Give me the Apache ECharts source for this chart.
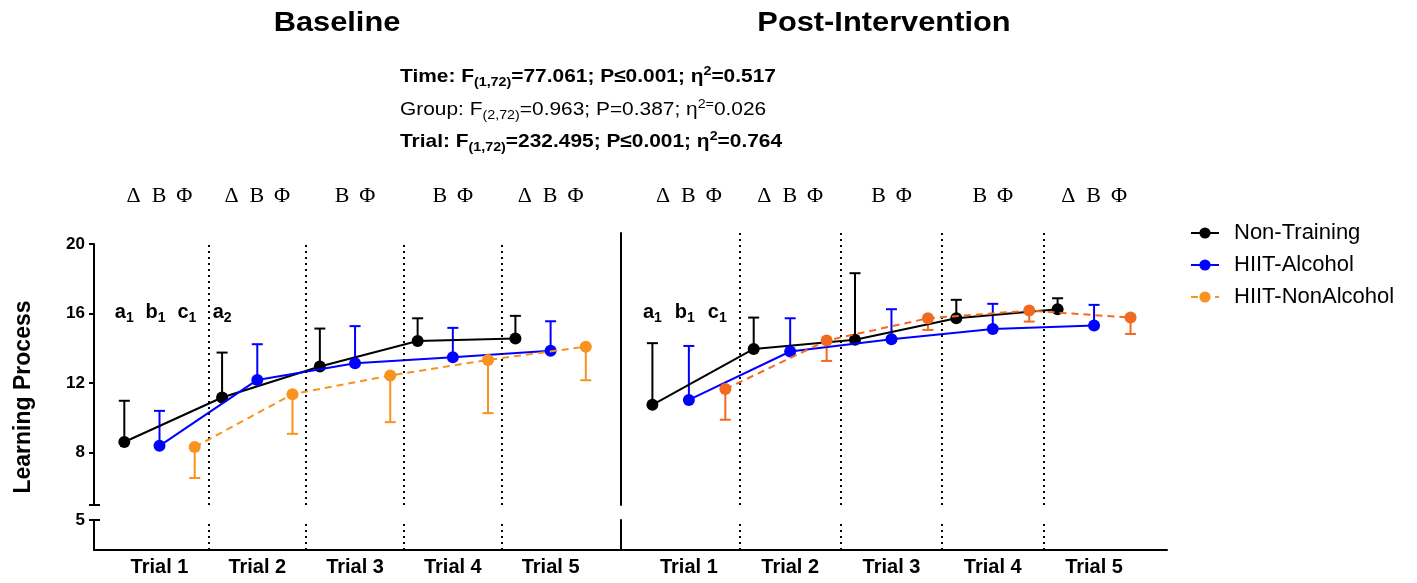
<!DOCTYPE html>
<html><head><meta charset="utf-8">
<script src="https://cdn.jsdelivr.net/npm/echarts@6/dist/echarts.min.js"></script>
<style>html,body{margin:0;padding:0;background:#fff}#c{width:1417px;height:583px}</style>
</head><body><div id="c"></div>
<script>
// ---------------- data ----------------
const trials = [1, 2, 3, 4, 5];
const trialLabels = ['Trial 1', 'Trial 2', 'Trial 3', 'Trial 4', 'Trial 5'];
const groups = ['Non-Training', 'HIIT-Alcohol', 'HIIT-NonAlcohol'];
const dividers = [1.5, 2.5, 3.5, 4.5];
const yTicks = [8, 12, 16, 20];
const yBreakTick = [5];

const baselineNonTraining = [8.62, 11.18, 12.96, 14.43, 14.57];
const baselineNonTrainingSD = [2.37, 2.58, 2.18, 1.30, 1.30];
const baselineHiitAlcohol = [8.40, 12.19, 13.15, 13.49, 13.86];
const baselineHiitAlcoholSD = [2.01, 2.05, 2.13, 1.69, 1.70];
const baselineHiitNonAlcohol = [8.33, 11.37, 12.44, 13.34, 14.10];
const baselineHiitNonAlcoholSD = [1.78, 2.28, 2.68, 3.06, 1.93];

const postNonTraining = [10.76, 13.97, 14.49, 15.73, 16.25];
const postNonTrainingSD = [3.54, 1.80, 3.83, 1.06, 0.63];
const postHiitAlcohol = [11.04, 13.82, 14.53, 15.12, 15.31];
const postHiitAlcoholSD = [3.10, 1.91, 1.72, 1.44, 1.19];
const postHiitNonAlcohol = [11.66, 14.45, 15.73, 16.17, 15.77];
const postHiitNonAlcoholSD = [1.76, 1.17, 0.67, 0.63, 0.94];

const trialMarks = ['Δ  Β \u2009Φ', 'Δ  Β \u2009Φ', 'Β \u2009Φ', 'Β \u2009Φ', 'Δ  Β \u2009Φ'];
const baselineLetters = ['a1', 'b1', 'c1', 'a2'];
const baselineLetterTrial = [1, 1, 1, 2];
const baselineLetterGroup = [0, 1, 2, 0];
const postLetters = ['a1', 'b1', 'c1'];
const postLetterTrial = [1, 1, 1];
const postLetterGroup = [0, 1, 2];

const panelTitles = ['Baseline', 'Post-Intervention'];

// ---------------- style ----------------
const FONT = '"Liberation Sans", Arial, sans-serif';
const SERIF = '"Liberation Serif", "Times New Roman", serif';
const groupOffset = [-0.36, 0, 0.36];
const letterOffset = [-0.36, -0.04, 0.28];
const errDir = [1, 1, -1];
const lineTypes = ['solid', 'solid', [7, 5]];
const colorsBase = ['#000000', '#0000FF', '#F7931E'];
const colorsPost = ['#000000', '#0000FF', '#F26A21'];
const X_MIN = 0.33, X_MAX = 5.72;
const MARK_Y = 22.75, LETTER_Y = 16.05;
const CAP = 11;
const STRETCH = 1.1;

const panels = [
  { values: [baselineNonTraining, baselineHiitAlcohol, baselineHiitNonAlcohol],
    sd: [baselineNonTrainingSD, baselineHiitAlcoholSD, baselineHiitNonAlcoholSD],
    colors: colorsBase, xTop: 0, yTop: 0, xBot: 2, yBot: 3,
    letters: baselineLetters, letterTrial: baselineLetterTrial, letterGroup: baselineLetterGroup },
  { values: [postNonTraining, postHiitAlcohol, postHiitNonAlcohol],
    sd: [postNonTrainingSD, postHiitAlcoholSD, postHiitNonAlcoholSD],
    colors: colorsPost, xTop: 1, yTop: 2, xBot: 3, yBot: 5,
    letters: postLetters, letterTrial: postLetterTrial, letterGroup: postLetterGroup }
];

function errRender(params, api) {
  const x = api.value(0), y = api.value(1), e = api.value(2), d = api.value(3);
  const p0 = api.coord([x, y]);
  const p1 = api.coord([x, y + d * e]);
  const st = { stroke: api.visual('color'), lineWidth: 2, fill: null };
  return { type: 'group', children: [
    { type: 'line', shape: { x1: p0[0], y1: p0[1], x2: p1[0], y2: p1[1] }, style: st },
    { type: 'line', shape: { x1: p1[0] - CAP / 2, y1: p1[1], x2: p1[0] + CAP / 2, y2: p1[1] }, style: st }
  ]};
}

const series = [];
panels.forEach(function (p) {
  groups.forEach(function (g, gi) {
    series.push({ type: 'line', name: g, xAxisIndex: p.xTop, yAxisIndex: p.yTop, z: 3 + gi,
      symbol: 'circle', symbolSize: 12, color: p.colors[gi],
      itemStyle: { color: p.colors[gi] },
      lineStyle: { color: p.colors[gi], width: 2, type: lineTypes[gi] },
      emphasis: { disabled: true }, silent: true,
      data: p.values[gi].map(function (v, i) { return [trials[i] + groupOffset[gi], v]; }) });
  });
  groups.forEach(function (g, gi) {
    series.push({ type: 'custom', xAxisIndex: p.xTop, yAxisIndex: p.yTop, z: 2,
      itemStyle: { color: p.colors[gi] }, renderItem: errRender, silent: true,
      encode: { x: 0, y: 1 },
      data: p.values[gi].map(function (v, i) { return [trials[i] + groupOffset[gi], v, p.sd[gi][i], errDir[gi]]; }) });
  });
  [[p.xTop, p.yTop], [p.xBot, p.yBot]].forEach(function (ax) {
    series.push({ type: 'scatter', xAxisIndex: ax[0], yAxisIndex: ax[1], data: [], silent: true,
      markLine: { silent: true, symbol: 'none', label: { show: false }, animation: false,
        lineStyle: { color: '#000', type: [2, 4], width: 2 },
        emphasis: { disabled: true },
        data: dividers.map(function (v) { return { xAxis: v }; }) } });
  });
});

const axisLineStyle = { show: true, onZero: false, lineStyle: { color: '#000', width: 2 } };
function hiddenX(grid) { return { type: 'value', gridIndex: grid, min: X_MIN, max: X_MAX, show: false }; }
function bottomX(grid) {
  return { type: 'value', gridIndex: grid, min: X_MIN, max: X_MAX, axisLine: axisLineStyle,
    axisTick: { show: false }, splitLine: { show: false },
    axisLabel: { customValues: trials, margin: 7, color: '#000', fontFamily: FONT, fontWeight: 'bold', fontSize: 20,
      formatter: function (v) { return trialLabels[Math.round(v) - 1]; } } };
}
const tickStyle = { color: '#000', width: 2 };
const yLabel = { color: '#000', fontFamily: FONT, fontWeight: 'bold', fontSize: 17, margin: 9 };

function statRich(bold) {
  const w = bold ? 'bold' : 'normal';
  return {
    n: { fontFamily: FONT, fontWeight: w, fontSize: 19, lineHeight: 24, fill: '#000' },
    s: { fontFamily: FONT, fontWeight: w, fontSize: 13, lineHeight: 14, verticalAlign: 'bottom', fill: '#000' },
    p: { fontFamily: FONT, fontWeight: w, fontSize: 13, lineHeight: 14, verticalAlign: 'top', fill: '#000' }
  };
}

const baseGraphic = [
  { type: 'text', x: 337, y: 23, scaleX: STRETCH, style: { text: panelTitles[0], fill: '#000', fontFamily: FONT, fontWeight: 'bold', fontSize: 28, textAlign: 'center', textVerticalAlign: 'middle' } },
  { type: 'text', x: 884, y: 23, scaleX: STRETCH, style: { text: panelTitles[1], fill: '#000', fontFamily: FONT, fontWeight: 'bold', fontSize: 28, textAlign: 'center', textVerticalAlign: 'middle' } },
  { type: 'text', x: 24, y: 397, rotation: Math.PI / 2, style: { text: 'Learning Process', fill: '#000', fontFamily: FONT, fontWeight: 'bold', fontSize: 23, textAlign: 'center', textVerticalAlign: 'middle' } },
  { type: 'text', x: 400, y: 77, scaleX: STRETCH, style: { textAlign: 'left', textVerticalAlign: 'middle',
    text: '{n|Time: F}{s|(1,72)}{n|=77.061; P≤0.001; η}{p|2}{n|=0.517}', rich: statRich(true) } },
  { type: 'text', x: 400, y: 110, scaleX: STRETCH, style: { textAlign: 'left', textVerticalAlign: 'middle',
    text: '{n|Group: F}{s|(2,72)}{n|=0.963; P=0.387; η}{p|2=}{n|0.026}', rich: statRich(false) } },
  { type: 'text', x: 400, y: 142, scaleX: STRETCH, style: { textAlign: 'left', textVerticalAlign: 'middle',
    text: '{n|Trial: F}{s|(1,72)}{n|=232.495; P≤0.001; η}{p|2}{n|=0.764}', rich: statRich(true) } }
];

const option = {
  animation: false,
  backgroundColor: '#fff',
  grid: [
    { left: 94, top: 244, width: 527, height: 261 },
    { left: 621, top: 233, width: 546, height: 272 },
    { left: 94, top: 520, width: 527, height: 30 },
    { left: 621, top: 520, width: 546, height: 30 }
  ],
  xAxis: [hiddenX(0), hiddenX(1), bottomX(2), bottomX(3)],
  yAxis: [
    { type: 'value', gridIndex: 0, position: 'left', min: 5, max: 20, axisLine: axisLineStyle, splitLine: { show: false },
      axisTick: { show: true, customValues: yBreakTick.concat(yTicks), length: 5, lineStyle: tickStyle },
      axisLabel: Object.assign({ customValues: yTicks }, yLabel) },
    { type: 'value', gridIndex: 0, position: 'left', min: 5, max: 20, axisLine: { show: false }, splitLine: { show: false },
      axisTick: { show: true, inside: true, customValues: yBreakTick, length: 6, lineStyle: tickStyle },
      axisLabel: { show: false } },
    { type: 'value', gridIndex: 1, position: 'left', min: 5, max: 20.63, axisLine: axisLineStyle, splitLine: { show: false },
      axisTick: { show: false }, axisLabel: { show: false } },
    { type: 'value', gridIndex: 2, position: 'left', min: 0, max: 5, axisLine: axisLineStyle, splitLine: { show: false },
      axisTick: { show: true, customValues: yBreakTick, length: 5, lineStyle: tickStyle },
      axisLabel: Object.assign({ customValues: yBreakTick }, yLabel) },
    { type: 'value', gridIndex: 2, position: 'left', min: 0, max: 5, axisLine: { show: false }, splitLine: { show: false },
      axisTick: { show: true, inside: true, customValues: yBreakTick, length: 6, lineStyle: tickStyle },
      axisLabel: { show: false } },
    { type: 'value', gridIndex: 3, position: 'left', min: 0, max: 5, axisLine: axisLineStyle, splitLine: { show: false },
      axisTick: { show: false }, axisLabel: { show: false } }
  ],
  legend: {
    orient: 'vertical', left: 1185, top: 217, itemWidth: 28, itemHeight: 14, itemGap: 10,
    data: groups, selectedMode: false,
    textStyle: { color: '#000', fontFamily: FONT, fontSize: 22, padding: [0, 0, 0, 10] }
  },
  graphic: baseGraphic,
  series: series
};

const chart = echarts.init(document.getElementById('c'), null, { renderer: 'canvas' });
chart.setOption(option);

// annotations anchored to data coordinates through the axes
const annot = [];
panels.forEach(function (p) {
  const finder = { xAxisIndex: p.xTop, yAxisIndex: p.yTop };
  trials.forEach(function (t, i) {
    const pt = chart.convertToPixel(finder, [t, MARK_Y]);
    annot.push({ type: 'text', x: pt[0], y: pt[1], silent: true,
      style: { text: trialMarks[i], fill: '#000', fontFamily: SERIF, fontSize: 22, textAlign: 'center', textVerticalAlign: 'middle' } });
  });
  p.letters.forEach(function (s, i) {
    const pt = chart.convertToPixel(finder, [p.letterTrial[i] + letterOffset[p.letterGroup[i]], LETTER_Y]);
    annot.push({ type: 'text', x: pt[0], y: pt[1], silent: true,
      style: { textAlign: 'center', textVerticalAlign: 'middle',
        text: '{m|' + s.charAt(0) + '}{s|' + s.slice(1) + '}',
        rich: { m: { fontFamily: FONT, fontWeight: 'bold', fontSize: 20, lineHeight: 24, fill: '#000' },
                s: { fontFamily: FONT, fontWeight: 'bold', fontSize: 14, lineHeight: 14, verticalAlign: 'bottom', fill: '#000' } } } });
  });
});
chart.setOption({ graphic: baseGraphic.concat(annot) });
</script>
</body></html>
